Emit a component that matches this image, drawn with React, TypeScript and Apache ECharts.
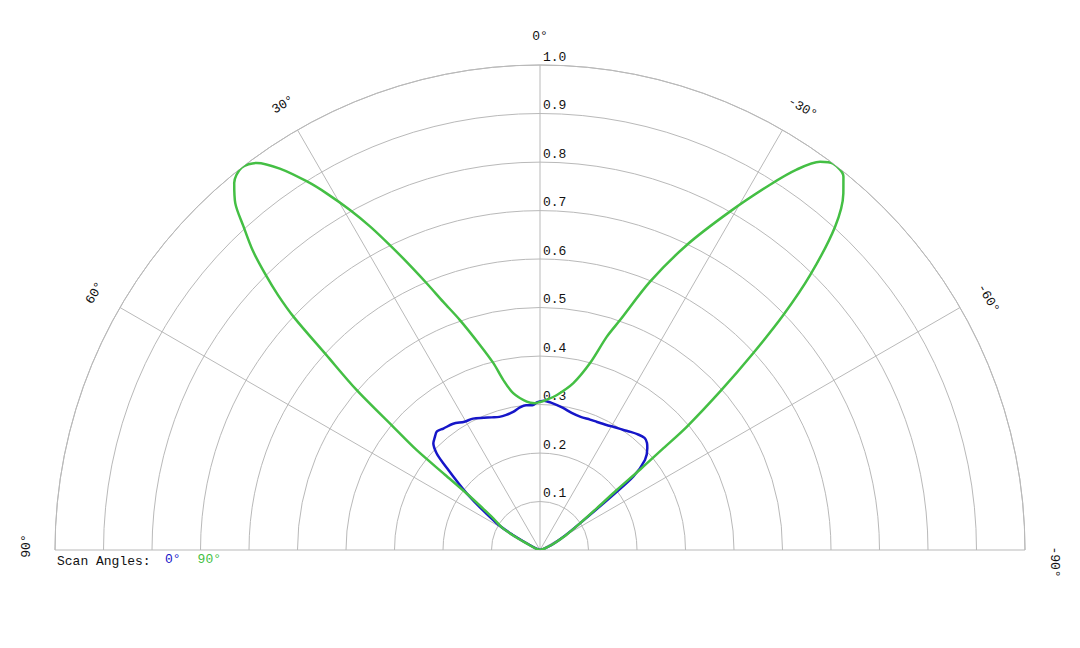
import { useEffect, useRef } from "react";
import * as echarts from "echarts";

// radial rings and angular spokes
const radiusTicks = [0.1, 0.2, 0.3, 0.4, 0.5, 0.6, 0.7, 0.8, 0.9, 1.0];
const radiusLabels = ["0.1", "0.2", "0.3", "0.4", "0.5", "0.6", "0.7", "0.8", "0.9", "1.0"];
const angleTicks = [90, 60, 30, 0, -30, -60, -90];

const seriesNames = ["0°", "90°"];

// scan angle 0° (blue) : angle (deg) / normalised gain
const scan0Angles = [
  -90, -72, -66.8, -60, -56.3, -53, -51.8, -49.4, -46.5, -45, -43, -40, -37.5, -34.5, -31, -28, -24, -21,
  -17, -13, -9, -4, -1.5, 1, 3, 5.5, 8, 11, 14, 17, 20, 23, 27, 30.5, 34.5, 38.5, 41, 43, 45, 46.9, 48.1,
  52.3, 58.3, 61, 63.4, 70, 90,
];
const scan0Values = [
  0, 0.008, 0.026, 0.06, 0.099, 0.19, 0.245, 0.285, 0.305, 0.312, 0.316, 0.312, 0.307, 0.301, 0.296, 0.292,
  0.289, 0.288, 0.287, 0.29, 0.297, 0.305, 0.308, 0.305, 0.299, 0.3, 0.297, 0.29, 0.287, 0.287, 0.291, 0.296,
  0.304, 0.307, 0.316, 0.32, 0.324, 0.318, 0.311, 0.292, 0.268, 0.191, 0.105, 0.065, 0.03, 0.008, 0,
];

// scan angle 90° (green)
const scan90Angles = [
  -90, -72, -66.8, -63, -60, -56.3, -53.5, -52, -51.2, -50.5, -50, -48.6, -47.3, -46, -44.5, -42.4, -40.4,
  -39.1, -37.2, -35.8, -34, -32.2, -29.3, -25.7, -22.3, -19.2, -17.4, -15, -11.3, -6.1, -2.5, 0, 2, 5.1, 9.7,
  12.2, 14, 16.3, 19.2, 21.3, 23, 24.7, 26.2, 27.7, 29.2, 30.9, 32.3, 34.3, 36.2, 38, 39.8, 41.3, 42.5, 43.8,
  44.9, 45.8, 46.6, 47.6, 48.9, 50, 51, 51.6, 52.4, 54, 56, 59.5, 62, 64, 70, 90,
];
const scan90Values = [
  0, 0.01, 0.026, 0.042, 0.063, 0.099, 0.15, 0.2, 0.265, 0.33, 0.395, 0.499, 0.598, 0.698, 0.795, 0.902, 0.965,
  0.992, 1.0, 0.987, 0.946, 0.89, 0.8, 0.698, 0.598, 0.502, 0.461, 0.399, 0.351, 0.321, 0.31, 0.305, 0.303,
  0.307, 0.328, 0.359, 0.397, 0.44, 0.502, 0.549, 0.597, 0.65, 0.7, 0.753, 0.803, 0.857, 0.899, 0.952, 0.989,
  1.0, 0.985, 0.952, 0.905, 0.856, 0.802, 0.753, 0.698, 0.598, 0.502, 0.395, 0.327, 0.25, 0.19, 0.145, 0.115,
  0.09, 0.055, 0.03, 0.01, 0,
];

const BLUE = "#1616c8";
const GREEN = "#44bf44";
const GRID = "#b9b9b9";
const INK = "#111";
const FONT = "'Liberation Mono', 'DejaVu Sans Mono', monospace";

const CX = 540;
const CY = 550;
const R = 485;
const LABEL_R = 514 / R;

const zip = (a: number[], v: number[]) => a.map((ang, i) => [v[i], ang]);

const App = () => {
  const ref = useRef<HTMLDivElement | null>(null);

  useEffect(() => {
    document.body.style.margin = "0";
    if (!ref.current) return;
    const chart = echarts.init(ref.current, null, { renderer: "svg" });

    chart.setOption({
      animation: false,
      backgroundColor: "#fff",
      polar: { center: [CX, CY], radius: R },
      angleAxis: {
        type: "value",
        min: -90,
        max: 90,
        interval: 30,
        startAngle: 0,
        endAngle: 180,
        clockwise: false,
        axisLine: { show: true, lineStyle: { color: GRID, width: 1 } },
        axisTick: { show: false },
        axisLabel: { show: false },
        splitLine: { show: true, lineStyle: { color: GRID, width: 1 } },
      },
      radiusAxis: {
        type: "value",
        min: 0,
        max: 1,
        interval: 0.1,
        axisLine: { show: false },
        axisTick: { show: false },
        axisLabel: { show: false },
        splitLine: { show: true, lineStyle: { color: GRID, width: 1 } },
      },
      legend: {
        data: [
          { name: seriesNames[0], textStyle: { color: BLUE } },
          { name: seriesNames[1], textStyle: { color: GREEN } },
        ],
        left: 160,
        top: 553,
        icon: "none",
        itemWidth: 0,
        itemHeight: 0,
        itemGap: 12,
        padding: 0,
        textStyle: { fontFamily: FONT, fontSize: 13 },
      },
      series: [
        {
          name: seriesNames[0],
          type: "line",
          coordinateSystem: "polar",
          data: zip(scan0Angles, scan0Values),
          smooth: 0.3,
          showSymbol: false,
          symbol: "none",
          lineStyle: { color: BLUE, width: 2.5 },
          itemStyle: { color: BLUE },
        },
        {
          name: seriesNames[1],
          type: "line",
          coordinateSystem: "polar",
          data: zip(scan90Angles, scan90Values),
          smooth: 0.3,
          showSymbol: false,
          symbol: "none",
          lineStyle: { color: GREEN, width: 2.5 },
          itemStyle: { color: GREEN },
        },
      ],
    });

    const toPx = (r: number, a: number): number[] => {
      const p = chart.convertToPixel({ polarIndex: 0 } as any, [r, a]) as any;
      if (p && isFinite(p[0])) return p;
      const rad = ((a + 90) * Math.PI) / 180;
      return [CX + Math.cos(rad) * r * R, CY - Math.sin(rad) * r * R];
    };

    const graphics: any[] = [];
    radiusTicks.forEach((v, i) => {
      const [x, y] = toPx(v, 0);
      graphics.push({
        type: "text",
        x: x + 3,
        y: y - 8,
        style: { text: radiusLabels[i], fill: INK, font: `13px ${FONT}`, textAlign: "left", textVerticalAlign: "middle" },
        silent: true,
      });
    });
    angleTicks.forEach((a) => {
      // negative labels carry a minus sign, which pushes their centre a little clockwise
      const [x, y] = toPx(LABEL_R, a < 0 && a > -90 ? a - 0.7 : a);
      const dy = a === 90 ? -4 : a === -90 ? 12 : 0;
      graphics.push({
        type: "text",
        x,
        y: y + dy,
        rotation: (a * Math.PI) / 180,
        style: { text: `${a}°`, fill: INK, font: `13px ${FONT}`, textAlign: "center", textVerticalAlign: "middle" },
        silent: true,
      });
    });
    graphics.push({
      type: "text",
      x: 57,
      y: 561,
      style: { text: "Scan Angles:", fill: INK, font: `13px ${FONT}`, textAlign: "left", textVerticalAlign: "middle" },
      silent: true,
    });
    chart.setOption({ graphic: graphics });

    return () => chart.dispose();
  }, []);

  return <div ref={ref} style={{ width: 1080, height: 648 }} />;
};

export default App;
